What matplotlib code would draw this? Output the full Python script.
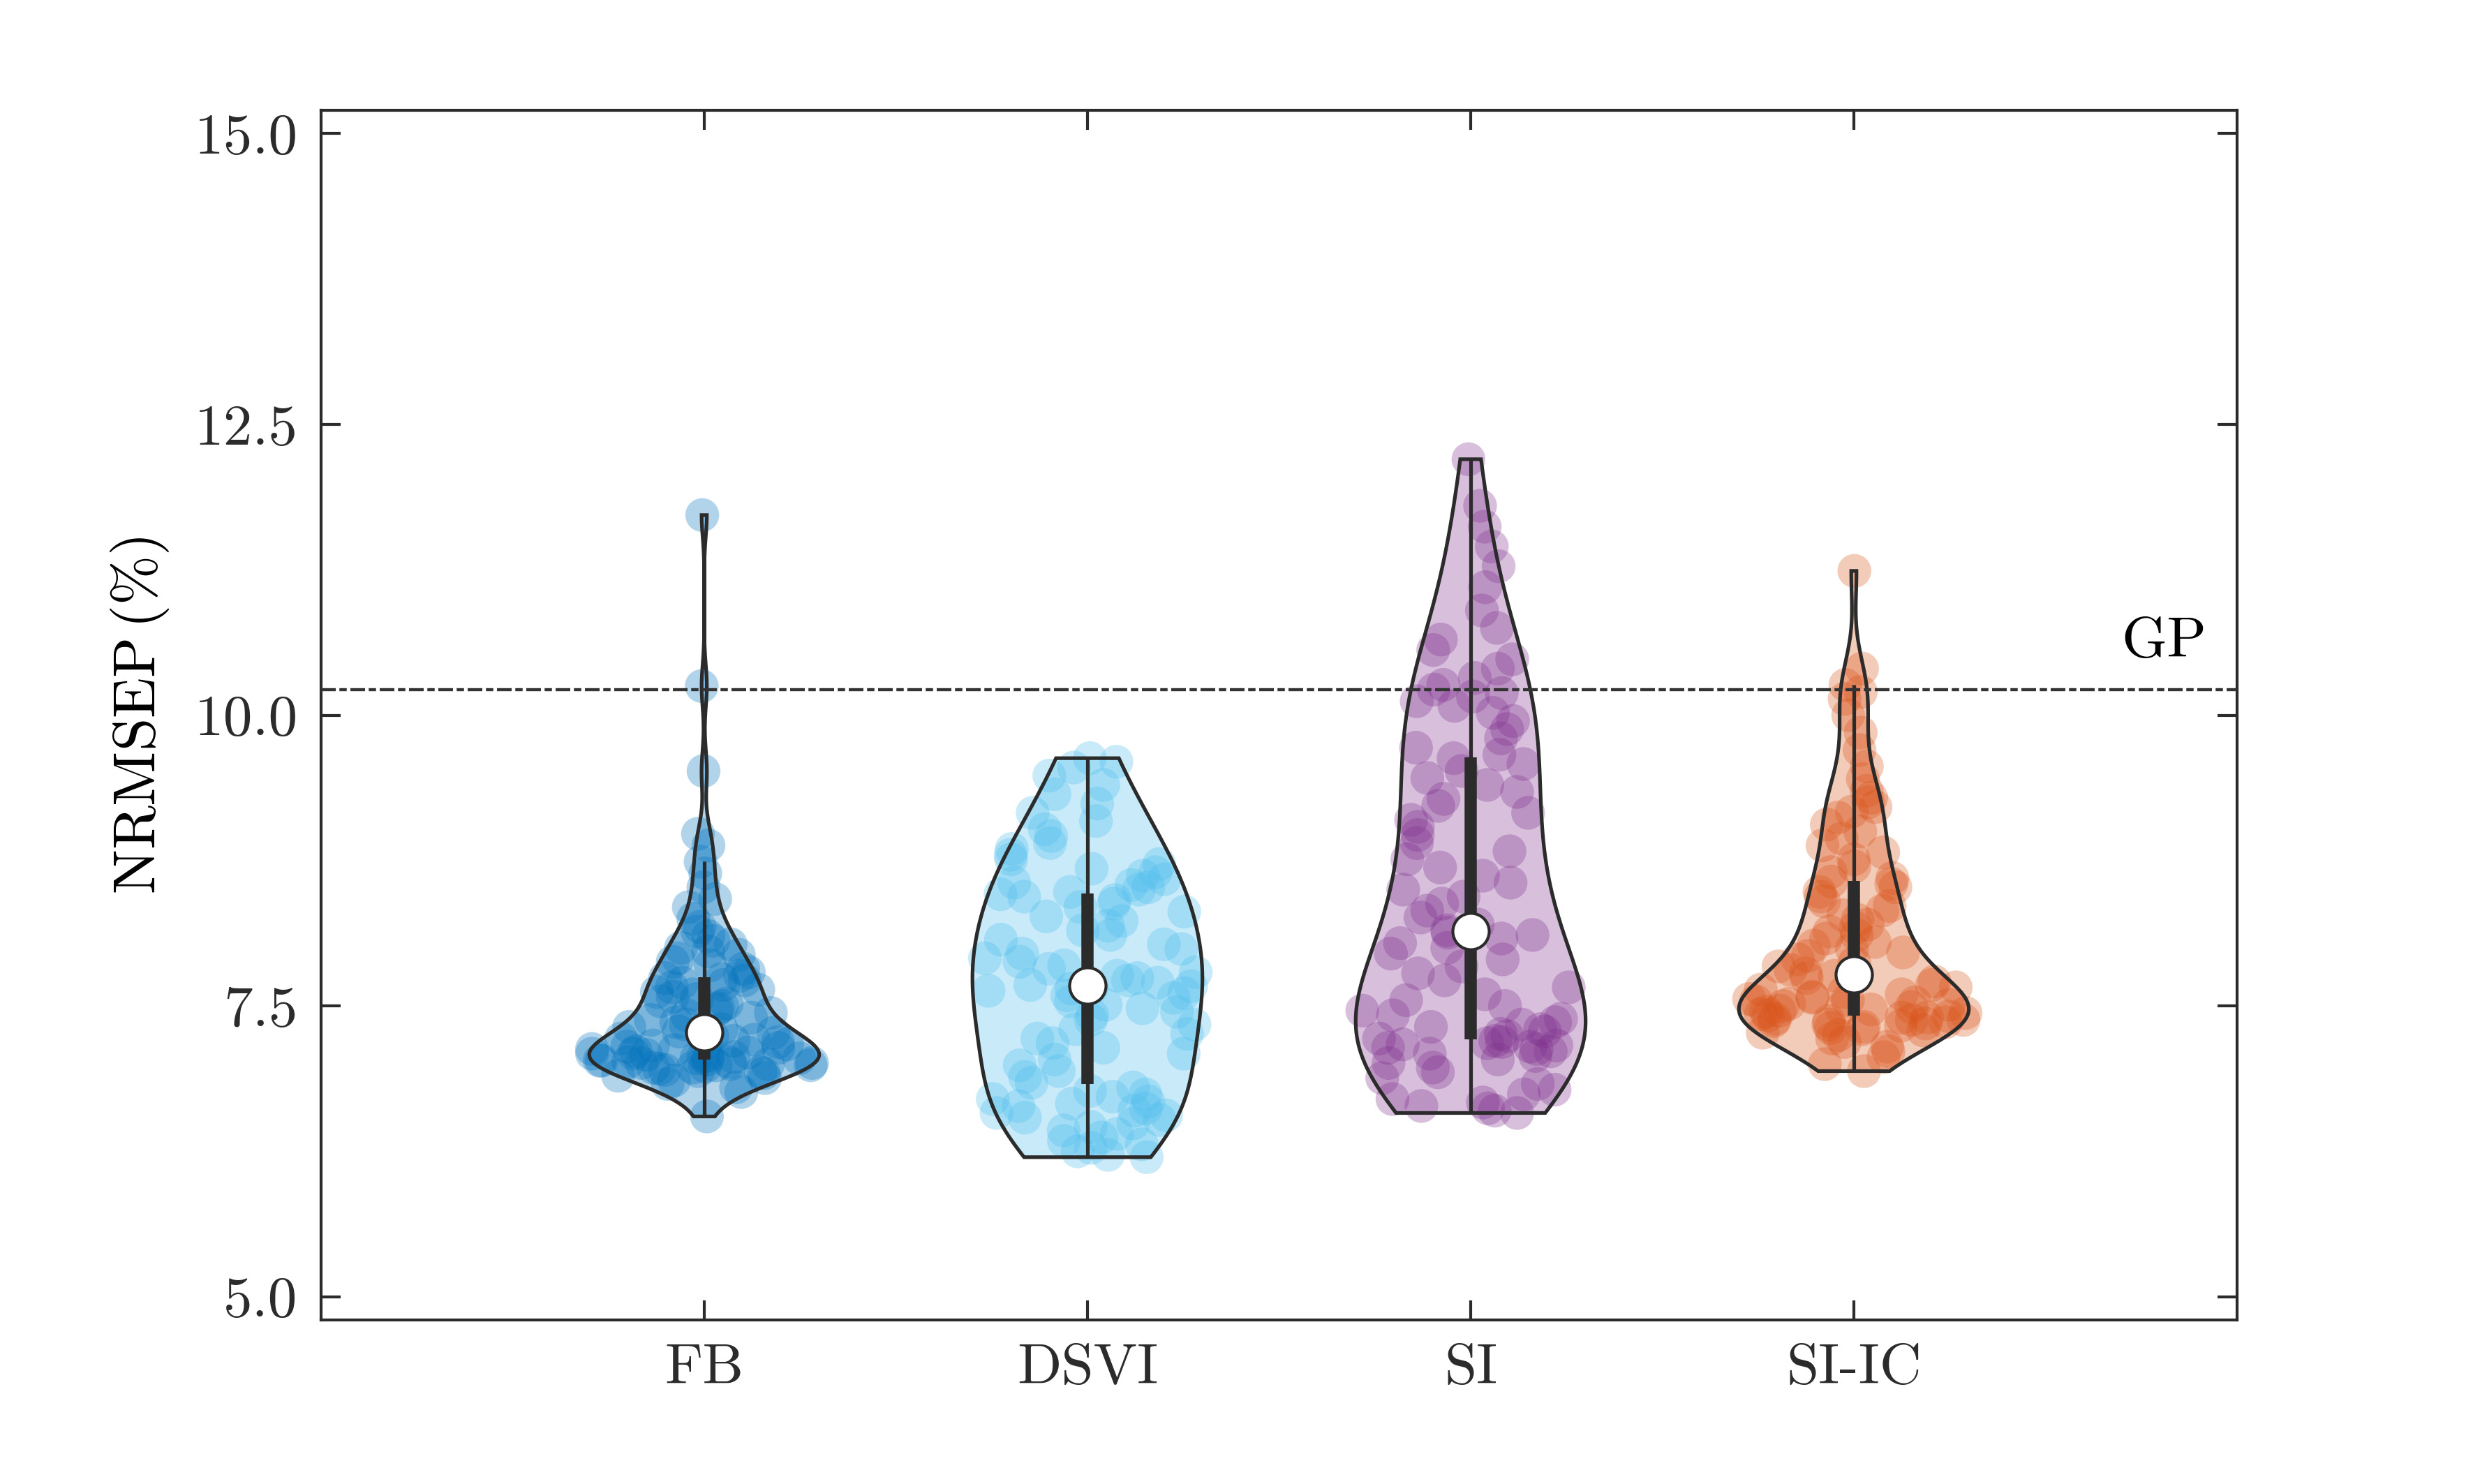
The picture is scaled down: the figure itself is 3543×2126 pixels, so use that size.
import numpy as np
import matplotlib
matplotlib.use("Agg")
import matplotlib.pyplot as plt

# ---------------- data ----------------
categories = ["FB", "DSVI", "SI", "SI-IC"]

fb_values = [
    6.55, 6.76, 6.80, 6.83, 6.86, 6.88, 6.90, 6.92, 6.93, 6.94, 6.95, 6.96, 6.97, 6.97, 6.98,
    6.99, 6.99, 7.00, 7.00, 7.01, 7.01, 7.02, 7.02, 7.03, 7.03,
    7.04, 7.05, 7.05, 7.06, 7.07, 7.07, 7.08, 7.09, 7.09, 7.10, 7.11, 7.12, 7.13, 7.14, 7.15,
    7.16, 7.17, 7.18, 7.19, 7.20, 7.21, 7.22, 7.24, 7.25, 7.27,
    7.28, 7.30, 7.32, 7.34, 7.36, 7.38, 7.40, 7.42, 7.44, 7.46, 7.48, 7.50, 7.52, 7.54, 7.56,
    7.58, 7.60, 7.62, 7.64, 7.66, 7.68, 7.70, 7.72, 7.73, 7.74,
    7.76, 7.79, 7.82, 7.85, 7.88, 7.91, 7.94, 7.97, 8.00, 8.03, 8.06, 8.10, 8.14, 8.18, 8.25,
    8.35, 8.42, 8.52, 8.64, 8.74,
    8.88, 8.98, 9.52, 10.25, 11.72,
]

dsvi_values = [
    6.20, 6.22, 6.25, 6.28, 6.31, 6.34, 6.37, 6.40, 6.43, 6.46, 6.49, 6.52, 6.54, 6.56, 6.58,
    6.60, 6.62, 6.64, 6.66, 6.68, 6.70, 6.72, 6.74, 6.77, 6.80,
    6.84, 6.89, 6.94, 6.99, 7.04, 7.09, 7.14, 7.18, 7.22, 7.26, 7.30, 7.34, 7.38, 7.42, 7.45,
    7.48, 7.51, 7.54, 7.57, 7.59, 7.61, 7.63, 7.65, 7.66, 7.67,
    7.68, 7.70, 7.72, 7.74, 7.76, 7.79, 7.82, 7.85, 7.88, 7.91, 7.95, 7.99, 8.03, 8.07, 8.11,
    8.15, 8.19, 8.23, 8.27, 8.31, 8.35, 8.38, 8.41, 8.44, 8.46,
    8.48, 8.50, 8.52, 8.54, 8.56, 8.59, 8.62, 8.65, 8.68, 8.72, 8.76, 8.80, 8.85, 8.90, 8.96,
    9.02, 9.09, 9.16, 9.24, 9.32, 9.40, 9.48, 9.55, 9.60, 9.63,
]

si_values = [
    6.58, 6.60, 6.62, 6.64, 6.67, 6.70, 6.74, 6.78, 6.83, 6.88, 6.93, 6.97, 7.01, 7.04, 7.07,
    7.09, 7.11, 7.13, 7.14, 7.15, 7.16, 7.17, 7.18, 7.19, 7.20,
    7.22, 7.24, 7.26, 7.28, 7.30, 7.32, 7.34, 7.36, 7.39, 7.42, 7.46, 7.50, 7.55, 7.60, 7.66,
    7.72, 7.78, 7.84, 7.90, 7.95, 8.00, 8.04, 8.08, 8.11, 8.13,
    8.15, 8.20, 8.26, 8.32, 8.38, 8.44, 8.50, 8.56, 8.62, 8.69, 8.76, 8.83, 8.90, 8.97, 9.04,
    9.10, 9.16, 9.22, 9.28, 9.34, 9.40, 9.46, 9.52, 9.58, 9.63,
    9.66, 9.72, 9.80, 9.88, 9.95, 10.02, 10.08, 10.12, 10.16, 10.19, 10.22, 10.26, 10.32,
    10.40, 10.48, 10.56, 10.65, 10.75, 10.90, 11.10, 11.28, 11.45, 11.62, 11.80, 12.20,
]

siic_values = [
    6.94, 7.00, 7.06, 7.11, 7.15, 7.19, 7.22, 7.25, 7.27, 7.29, 7.30, 7.31, 7.32, 7.33, 7.34,
    7.35, 7.36, 7.37, 7.37, 7.38, 7.38, 7.39, 7.40, 7.40, 7.41,
    7.42, 7.43, 7.44, 7.45, 7.46, 7.47, 7.48, 7.49, 7.50, 7.51, 7.52, 7.53, 7.54, 7.55, 7.56,
    7.57, 7.58, 7.60, 7.62, 7.64, 7.66, 7.68, 7.71, 7.74, 7.76,
    7.78, 7.81, 7.84, 7.87, 7.90, 7.93, 7.96, 7.99, 8.02, 8.05, 8.08, 8.11, 8.14, 8.17, 8.20,
    8.24, 8.28, 8.32, 8.36, 8.40, 8.44, 8.48, 8.52, 8.55, 8.57,
    8.60, 8.65, 8.70, 8.76, 8.82, 8.88, 8.94, 9.00, 9.06, 9.12, 9.17, 9.21, 9.25, 9.29, 9.35,
    9.45, 9.56, 9.70, 9.85, 10.00, 10.14, 10.20, 10.26, 10.40, 11.24,
]

gp_value = 10.22
gp_label = "GP"
ylabel = r"$\mathrm{NRMSEP}\,(\%)$"
yticks = [5.0, 7.5, 10.0, 12.5, 15.0]
ytick_labels = ["5.0", "7.5", "10.0", "12.5", "15.0"]

groups = [fb_values, dsvi_values, si_values, siic_values]
colors = ["#0072BD", "#4DBEEE", "#7E2F8E", "#D95319"]

# ---------------- style ----------------
plt.rcParams["font.family"] = "serif"
plt.rcParams["font.serif"] = ["cmr10", "DejaVu Serif"]
plt.rcParams["mathtext.fontset"] = "cm"
plt.rcParams["axes.formatter.use_mathtext"] = True

DARK = "#2b2b2b"
FS = 20

fig = plt.figure(figsize=(3543 / 300, 2126 / 300), dpi=300)
ax = fig.add_axes([0.1298, 0.1105, 0.9046 - 0.1298, 0.9257 - 0.1105])


def kde(data, grid):
    d = np.asarray(data, dtype=float)
    n = d.size
    sig = np.median(np.abs(d - np.median(d))) / 0.6745
    bw = sig * (4.0 / (3.0 * n)) ** 0.2
    z = (grid[:, None] - d[None, :]) / bw
    return np.exp(-0.5 * z ** 2).sum(axis=1) / (n * bw * np.sqrt(2 * np.pi))


half_width = 0.3
rng = np.random.default_rng(7)

for i, (vals, col) in enumerate(zip(groups, colors)):
    pos = i + 1
    d = np.asarray(vals, dtype=float)
    grid = np.linspace(d.min(), d.max(), 400)
    dens = kde(d, grid)
    scale = half_width / dens.max()
    w = dens * scale

    # scatter of individual points, jittered inside the violin
    wpt = np.interp(d, grid, w)
    jit = rng.uniform(-1, 1, d.size)
    ax.scatter(pos + jit * wpt, d, s=135, color=col, alpha=0.3,
               edgecolors="none", zorder=2)

    # violin body
    xs = np.concatenate([pos + w, (pos - w)[::-1]])
    ys = np.concatenate([grid, grid[::-1]])
    ax.fill(xs, ys, facecolor=col, alpha=0.3, edgecolor="none", zorder=3)
    ax.fill(xs, ys, facecolor="none", edgecolor=DARK, lw=1.25, zorder=4,
            joinstyle="miter")

    # box & whiskers
    q1, med, q3 = np.percentile(d, [25, 50, 75])
    iqr = q3 - q1
    upper = d[d <= q3 + 1.5 * iqr].max()
    lower = d[d >= q1 - 1.5 * iqr].min()
    ax.plot([pos, pos], [lower, upper], color=DARK, lw=1.25, zorder=5,
            solid_capstyle="butt")
    ax.plot([pos, pos], [q1, q3], color=DARK, lw=4.2, zorder=5,
            solid_capstyle="butt")
    ax.plot([pos], [med], marker="o", markersize=12.5, markerfacecolor="white",
            markeredgecolor=DARK, markeredgewidth=1.0, zorder=6)

# GP reference line and label
ax.axhline(gp_value, color="#333333", lw=1.05, dashes=(4.8, 1.2, 2.4, 1.2), zorder=7)
ax.text(4.92, 10.50, gp_label, ha="right", va="baseline", fontsize=FS, color="black")

ax.set_xlim(0, 5)
ax.set_ylim(4.8, 15.2)
ax.set_xticks(range(1, len(categories) + 1))
ax.set_xticklabels(categories)
ax.set_yticks(yticks)
ax.set_yticklabels(ytick_labels)
ax.set_ylabel(ylabel, fontsize=20.5, labelpad=8, color="black")

ax.tick_params(axis="both", direction="in", length=6.7, width=1.0,
               top=True, right=True, labelsize=FS, color=DARK, labelcolor=DARK, pad=8)
for sp in ax.spines.values():
    sp.set_linewidth(1.0)
    sp.set_color(DARK)

fig.savefig("out.png", dpi=300, facecolor="white")
